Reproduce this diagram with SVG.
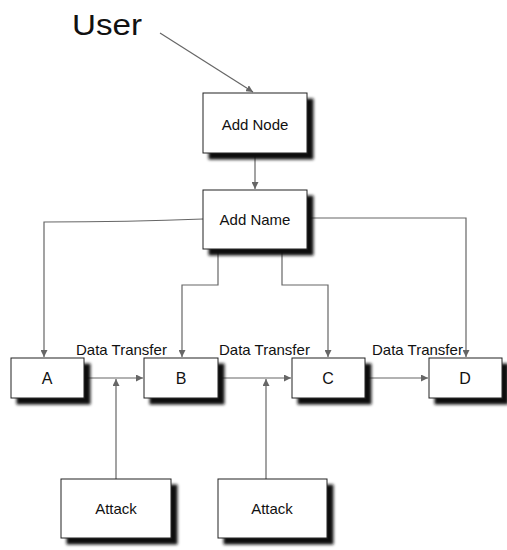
<svg xmlns="http://www.w3.org/2000/svg" width="507" height="550" viewBox="0 0 507 550">
  <defs>
    <filter id="shadow" x="-20%" y="-20%" width="150%" height="160%">
      <feGaussianBlur in="SourceAlpha" stdDeviation="1.5"/>
      <feOffset dx="6" dy="6" result="blur"/>
      <feFlood flood-color="#111"/>
      <feComposite in2="blur" operator="in"/>
      <feMerge>
        <feMergeNode/>
        <feMergeNode in="SourceGraphic"/>
      </feMerge>
    </filter>
    <marker id="arrow" viewBox="0 0 10 10" refX="10" refY="5" markerWidth="7" markerHeight="7" markerUnits="userSpaceOnUse" orient="auto">
      <path d="M0,0 L10,5 L0,10 z" fill="#666"/>
    </marker>
  </defs>
  <style>
    .box { fill: #fff; stroke: #222; stroke-width: 1; filter: url(#shadow); }
    .label { font-family: "Liberation Sans", Arial, sans-serif; font-size: 15px; fill: #111; text-anchor: middle; dominant-baseline: central; }
    .big { font-size: 16px; }
    .free { font-family: "Liberation Sans", Arial, sans-serif; font-size: 15px; fill: #111; }
    .conn { fill: none; stroke: #666; stroke-width: 1.2; }
  </style>
  <rect width="507" height="550" fill="#fff"/>

  <text x="72" y="35" font-family="Liberation Sans, Arial, sans-serif" font-size="29" fill="#111" textLength="70" lengthAdjust="spacingAndGlyphs">User</text>

  <g id="connectors">
    <path class="conn" d="M160,33 L253,92" marker-end="url(#arrow)"/>
    <path class="conn" d="M255,153 L255,189" marker-end="url(#arrow)"/>
    <path class="conn" d="M203,219 Q130,222 44,222 L44,357" marker-end="url(#arrow)"/>
    <path class="conn" d="M307,218 L466,218 L466,357" marker-end="url(#arrow)"/>
    <path class="conn" d="M218,249 L218,285 L182,285 L182,357" marker-end="url(#arrow)"/>
    <path class="conn" d="M282,249 L282,285 L328,285 L328,357" marker-end="url(#arrow)"/>
    <path class="conn" d="M84,378 L143,378" marker-end="url(#arrow)"/>
    <path class="conn" d="M218,378 L291,378" marker-end="url(#arrow)"/>
    <path class="conn" d="M365,378 L428,378" marker-end="url(#arrow)"/>
    <path class="conn" d="M116,479 L116,379" marker-end="url(#arrow)"/>
    <path class="conn" d="M266,479 L266,379" marker-end="url(#arrow)"/>
  </g>

  <text class="free" x="76" y="355">Data Transfer</text>
  <text class="free" x="219" y="355">Data Transfer</text>
  <text class="free" x="372" y="355">Data Transfer</text>

  <g id="add-node">
    <rect class="box" x="203" y="93" width="104" height="60"/>
    <text class="label" x="255" y="124">Add Node</text>
  </g>
  <g id="add-name">
    <rect class="box" x="203" y="190" width="104" height="59"/>
    <text class="label" x="255" y="219">Add Name</text>
  </g>
  <g id="node-a">
    <rect class="box" x="11" y="358" width="73" height="40"/>
    <text class="label big" x="47" y="378">A</text>
  </g>
  <g id="node-b">
    <rect class="box" x="144" y="358" width="74" height="40"/>
    <text class="label big" x="181" y="378">B</text>
  </g>
  <g id="node-c">
    <rect class="box" x="292" y="358" width="73" height="40"/>
    <text class="label big" x="328" y="378">C</text>
  </g>
  <g id="node-d">
    <rect class="box" x="429" y="358" width="73" height="40"/>
    <text class="label big" x="465" y="378">D</text>
  </g>
  <g id="attack-1">
    <rect class="box" x="61" y="479" width="110" height="59"/>
    <text class="label" x="116" y="508">Attack</text>
  </g>
  <g id="attack-2">
    <rect class="box" x="218" y="479" width="109" height="59"/>
    <text class="label" x="272" y="508">Attack</text>
  </g>
</svg>
